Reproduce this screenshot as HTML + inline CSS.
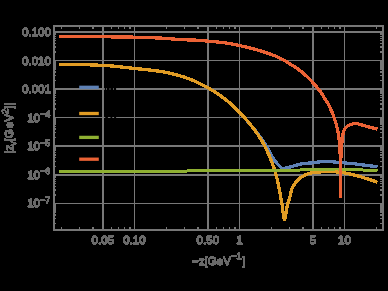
<!DOCTYPE html>
<html><head><meta charset="utf-8"><title>plot</title>
<style>html,body{margin:0;padding:0;background:#000;width:388px;height:291px;overflow:hidden}</style>
</head><body>
<svg width="388" height="291" viewBox="0 0 388 291" style="position:absolute;left:0;top:0;will-change:transform">
<rect width="388" height="291" fill="#000"/>
<g fill="#787878" shape-rendering="crispEdges"><rect x="102" y="25" width="2" height="206"/><rect x="134" y="25" width="1" height="206"/><rect x="207" y="25" width="2" height="206"/><rect x="239" y="25" width="1" height="206"/><rect x="312" y="25" width="2" height="206"/><rect x="344" y="25" width="1" height="206"/><rect x="53" y="31" width="331" height="2"/><rect x="53" y="60" width="331" height="1"/><rect x="53" y="88" width="331" height="2"/><rect x="53" y="117" width="331" height="1"/><rect x="53" y="145" width="331" height="2"/><rect x="53" y="174" width="331" height="2"/><rect x="53" y="203" width="331" height="1"/></g>
<rect x="104.8" y="87.6" width="1.40" height="3" fill="#000"/>
<rect x="106.9" y="87.6" width="2.70" height="3" fill="#000"/>
<rect x="110.4" y="87.6" width="2.80" height="3" fill="#000"/>
<rect x="113.9" y="87.6" width="2.20" height="3" fill="#000"/>
<rect x="105.3" y="116.2" width="2.60" height="3" fill="#000"/>
<rect x="110.5" y="116.2" width="1.80" height="3" fill="#000"/>
<rect x="114.1" y="116.2" width="2.00" height="3" fill="#000"/>
<filter id="th" x="-5%" y="-5%" width="110%" height="110%" color-interpolation-filters="sRGB"><feComponentTransfer><feFuncA type="discrete" tableValues="0 0 1 1 1 1 1 1 1 1"/></feComponentTransfer></filter>
<clipPath id="c"><rect x="54.0" y="26.0" width="329.0" height="204.0"/></clipPath>
<g clip-path="url(#c)" fill="none" stroke-linejoin="round" stroke-linecap="butt" shape-rendering="crispEdges">
<path d="M59.20,64.20 L61.01,64.20 L62.82,64.21 L64.63,64.22 L66.43,64.24 L68.24,64.26 L70.05,64.29 L71.85,64.32 L73.66,64.36 L75.47,64.40 L77.27,64.44 L79.08,64.49 L80.88,64.54 L82.68,64.59 L84.49,64.65 L86.29,64.71 L88.10,64.77 L89.90,64.84 L91.70,64.91 L93.50,64.98 L95.30,65.05 L97.11,65.12 L98.91,65.20 L100.71,65.28 L102.51,65.36 L104.31,65.44 L106.11,65.54 L107.91,65.66 L109.70,65.80 L111.50,65.95 L113.30,66.12 L115.09,66.30 L116.89,66.49 L118.69,66.69 L120.48,66.89 L122.28,67.10 L124.07,67.30 L125.87,67.51 L127.66,67.72 L129.46,67.92 L131.25,68.12 L133.05,68.31 L134.84,68.49 L136.64,68.68 L138.44,68.86 L140.24,69.03 L142.04,69.21 L143.84,69.40 L145.64,69.58 L147.44,69.77 L149.23,69.97 L151.03,70.17 L152.82,70.39 L154.61,70.61 L156.39,70.84 L158.18,71.09 L159.96,71.35 L161.73,71.63 L163.51,71.94 L165.28,72.27 L167.05,72.63 L168.82,73.01 L170.58,73.41 L172.34,73.84 L174.10,74.28 L175.85,74.73 L177.60,75.20 L179.34,75.68 L181.07,76.18 L182.79,76.69 L184.51,77.24 L186.22,77.83 L187.93,78.44 L189.62,79.09 L191.29,79.75 L192.96,80.44 L194.61,81.15 L196.26,81.88 L197.91,82.64 L199.54,83.42 L201.17,84.22 L202.78,85.04 L204.38,85.88 L205.97,86.74 L207.54,87.61 L209.10,88.50 L210.66,89.41 L212.21,90.34 L213.75,91.29 L215.28,92.26 L216.80,93.25 L218.31,94.26 L219.80,95.28 L221.28,96.33 L222.75,97.38 L224.19,98.46 L225.62,99.55 L227.03,100.66 L228.42,101.79 L229.79,102.96 L231.15,104.15 L232.50,105.36 L233.83,106.60 L235.14,107.85 L236.44,109.11 L237.72,110.39 L238.99,111.67 L240.24,112.96 L241.47,114.27 L242.69,115.61 L243.88,116.96 L245.07,118.32 L246.24,119.70 L247.40,121.08 L248.56,122.47 L249.72,123.86 L250.87,125.25 L252.03,126.64 L253.19,128.02 L254.35,129.41 L255.50,130.80 L256.64,132.20 L257.75,133.62 L258.84,135.06 L259.91,136.51 L260.96,137.98 L262.00,139.46 L263.02,140.95 L264.03,142.45 L265.01,143.96 L265.98,145.49 L266.92,147.03 L267.81,148.60 L268.66,150.21 L269.49,151.83 L270.32,153.45 L271.17,155.05 L272.05,156.63 L272.97,158.17 L273.95,159.65 L275.02,161.07 L276.19,162.44 L277.42,163.78 L278.69,165.08 L279.97,166.37 L281.22,167.89 L282.75,168.29 L284.61,168.19 L286.38,167.86 L288.13,167.42 L289.89,167.00 L291.64,166.56 L293.38,166.10 L295.12,165.57 L296.84,165.02 L298.57,164.50 L300.32,164.07 L302.09,163.77 L303.88,163.52 L305.68,163.34 L307.48,163.21 L309.28,163.10 L311.09,162.98 L312.88,162.80 L314.67,162.54 L316.45,162.27 L318.24,162.05 L320.04,161.83 L321.84,161.70 L323.64,161.66 L325.45,161.63 L327.25,161.61 L329.06,161.60 L330.86,161.62 L332.66,161.79 L334.45,162.02 L336.25,162.22 L338.04,162.38 L339.84,162.54 L341.64,162.69 L343.44,162.84 L345.24,162.98 L347.04,163.13 L348.84,163.29 L350.63,163.45 L352.43,163.62 L354.23,163.81 L356.02,164.00 L357.81,164.22 L359.60,164.46 L361.39,164.70 L363.18,164.95 L364.97,165.20 L366.76,165.43 L368.55,165.66 L370.34,165.89 L372.13,166.12 L373.92,166.35 L375.71,166.58 L377.50,166.80" stroke="#5e81b5" stroke-width="3.3"/>
<path d="M59.20,64.20 L60.77,64.20 L62.34,64.21 L63.91,64.22 L65.48,64.23 L67.05,64.25 L68.62,64.27 L70.19,64.29 L71.75,64.32 L73.32,64.35 L74.89,64.39 L76.46,64.42 L78.02,64.46 L79.59,64.50 L81.16,64.55 L82.72,64.60 L84.29,64.65 L85.86,64.70 L87.42,64.75 L88.99,64.81 L90.55,64.86 L92.12,64.92 L93.68,64.99 L95.24,65.05 L96.81,65.11 L98.37,65.18 L99.93,65.24 L101.50,65.31 L103.06,65.38 L104.62,65.45 L106.19,65.54 L107.75,65.65 L109.31,65.76 L110.87,65.89 L112.43,66.04 L113.99,66.19 L115.55,66.35 L117.11,66.51 L118.67,66.68 L120.23,66.86 L121.78,67.04 L123.34,67.22 L124.90,67.40 L126.46,67.58 L128.02,67.76 L129.57,67.94 L131.13,68.11 L132.69,68.27 L134.25,68.43 L135.81,68.59 L137.37,68.75 L138.93,68.90 L140.50,69.06 L142.06,69.22 L143.62,69.37 L145.18,69.53 L146.74,69.70 L148.30,69.87 L149.86,70.04 L151.42,70.22 L152.98,70.41 L154.53,70.60 L156.08,70.80 L157.63,71.01 L159.17,71.24 L160.72,71.47 L162.26,71.72 L163.80,71.99 L165.34,72.28 L166.87,72.59 L168.41,72.92 L169.94,73.27 L171.47,73.62 L173.00,74.00 L174.52,74.38 L176.04,74.78 L177.56,75.19 L179.07,75.61 L180.57,76.03 L182.07,76.47 L183.57,76.93 L185.06,77.42 L186.54,77.94 L188.02,78.48 L189.48,79.04 L190.94,79.61 L192.39,80.20 L193.83,80.81 L195.27,81.43 L196.70,82.08 L198.12,82.74 L199.54,83.42 L200.95,84.11 L202.35,84.82 L203.75,85.55 L205.13,86.29 L206.50,87.03 L207.86,87.79 L209.22,88.57 L210.57,89.36 L211.92,90.16 L213.26,90.98 L214.59,91.82 L215.91,92.67 L217.23,93.53 L218.54,94.41 L219.84,95.30 L221.12,96.21 L222.39,97.13 L223.65,98.05 L224.90,99.00 L226.13,99.95 L227.35,100.91 L228.55,101.91 L229.75,102.92 L230.93,103.95 L232.10,105.00 L233.26,106.07 L234.41,107.14 L235.54,108.24 L236.66,109.34 L237.78,110.44 L238.88,111.56 L239.97,112.68 L241.04,113.81 L242.11,114.95 L243.17,116.11 L244.21,117.28 L245.25,118.46 L246.27,119.65 L247.29,120.85 L248.29,122.05 L249.29,123.26 L250.28,124.48 L251.26,125.70 L252.24,126.93 L253.21,128.16 L254.17,129.40 L255.12,130.65 L256.05,131.91 L256.96,133.19 L257.85,134.47 L258.71,135.78 L259.56,137.09 L260.39,138.42 L261.21,139.76 L262.01,141.11 L262.80,142.48 L263.56,143.85 L264.30,145.23 L265.01,146.61 L265.71,148.01 L266.40,149.42 L267.07,150.84 L267.73,152.26 L268.37,153.70 L269.00,155.14 L269.61,156.58 L270.21,158.03 L270.79,159.48 L271.37,160.94 L271.93,162.40 L272.48,163.87 L273.02,165.34 L273.54,166.82 L274.05,168.31 L274.53,169.80 L274.99,171.29 L275.43,172.79 L275.86,174.30 L276.28,175.81 L276.69,177.33 L277.07,178.85 L277.45,180.37 L277.81,181.90 L278.15,183.42 L278.47,184.96 L278.78,186.49 L279.08,188.03 L279.36,189.57 L279.64,191.11 L279.92,192.66 L280.19,194.20 L280.47,195.74 L280.75,197.29 L281.05,198.83 L281.34,200.37 L281.63,201.91 L281.90,203.45 L282.14,205.00 L282.36,206.55 L282.56,208.10 L282.74,209.66 L282.93,211.22 L283.13,212.77 L283.35,214.32 L283.59,215.87 L283.85,217.41 L284.12,218.96 L284.40,220.50" stroke="#e19c24" stroke-width="3.3"/>
<path d="M284.40,220.50 L284.56,219.88 L284.71,219.27 L284.86,218.65 L285.01,218.03 L285.16,217.41 L285.30,216.80 L285.44,216.18 L285.58,215.56 L285.71,214.94 L285.84,214.32 L285.96,213.69 L286.08,213.07 L286.19,212.44 L286.29,211.82 L286.39,211.19 L286.49,210.56 L286.58,209.93 L286.68,209.30 L286.78,208.67 L286.88,208.04 L286.98,207.42 L287.09,206.79 L287.20,206.17 L287.32,205.55 L287.45,204.93 L287.59,204.31 L287.75,203.70 L287.92,203.09 L288.11,202.49 L288.30,201.88 L288.50,201.28 L288.71,200.68 L288.92,200.07 L289.13,199.47 L289.33,198.87 L289.52,198.26 L289.71,197.65 L289.89,197.05 L290.05,196.43 L290.20,195.81 L290.34,195.19 L290.48,194.56 L290.61,193.93 L290.74,193.30 L290.87,192.67 L291.01,192.05 L291.15,191.43 L291.30,190.81 L291.46,190.20 L291.63,189.60 L291.82,189.01 L292.04,188.43 L292.29,187.86 L292.56,187.29 L292.86,186.73 L293.18,186.17 L293.52,185.62 L293.87,185.08 L294.23,184.54 L294.58,184.02 L294.94,183.50 L295.31,182.98 L295.68,182.46 L296.07,181.95 L296.48,181.45 L296.89,180.96 L297.32,180.48 L297.75,180.03 L298.20,179.59 L298.66,179.17 L299.14,178.76 L299.64,178.37 L300.15,177.99 L300.68,177.62 L301.21,177.27 L301.75,176.92 L302.30,176.59 L302.84,176.27 L303.39,175.96 L303.95,175.65 L304.51,175.34 L305.08,175.04 L305.65,174.75 L306.23,174.48 L306.81,174.22 L307.40,173.98 L307.99,173.76 L308.59,173.57 L309.19,173.40 L309.80,173.24 L310.42,173.09 L311.05,172.95 L311.67,172.82 L312.30,172.71 L312.93,172.61 L313.55,172.52 L314.18,172.45 L314.81,172.37 L315.44,172.31 L316.08,172.25 L316.71,172.19 L317.34,172.13 L317.98,172.08 L318.61,172.02 L319.24,171.97 L319.88,171.91 L320.51,171.85 L321.14,171.78 L321.77,171.70 L322.41,171.63 L323.04,171.57 L323.67,171.52 L324.30,171.50 L324.94,171.50 L325.57,171.50 L326.21,171.51 L326.84,171.52 L327.48,171.53 L328.11,171.54 L328.75,171.56 L329.38,171.58 L330.02,171.60 L330.65,171.62 L331.29,171.64 L331.92,171.67 L332.56,171.69 L333.19,171.72 L333.83,171.75 L334.46,171.78 L335.09,171.80 L335.72,171.84 L336.36,171.88 L336.99,171.93 L337.62,171.99 L338.26,172.06 L338.89,172.13 L339.52,172.20 L340.15,172.28 L340.78,172.37 L341.41,172.45 L342.04,172.54 L342.67,172.64 L343.30,172.73 L343.93,172.83 L344.55,172.93 L345.18,173.03 L345.80,173.13 L346.42,173.24 L347.04,173.36 L347.67,173.48 L348.29,173.60 L348.91,173.73 L349.53,173.87 L350.15,174.01 L350.76,174.16 L351.38,174.30 L352.00,174.46 L352.62,174.61 L353.23,174.77 L353.85,174.93 L354.46,175.10 L355.08,175.26 L355.69,175.43 L356.31,175.60 L356.92,175.77 L357.53,175.95 L358.15,176.12 L358.76,176.29 L359.37,176.47 L359.98,176.64 L360.59,176.81 L361.20,176.99 L361.81,177.16 L362.42,177.33 L363.03,177.51 L363.64,177.69 L364.25,177.87 L364.85,178.05 L365.46,178.23 L366.07,178.42 L366.67,178.61 L367.28,178.80 L367.89,178.99 L368.49,179.18 L369.09,179.38 L369.70,179.58 L370.30,179.78 L370.90,179.98 L371.51,180.18 L372.11,180.39 L372.71,180.59 L373.31,180.80 L373.91,181.01 L374.51,181.22 L375.11,181.43 L375.71,181.65 L376.30,181.86 L376.90,182.08 L377.50,182.30" stroke="#e19c24" stroke-width="3.3"/>
<path d="M59.00,171.50 L60.60,171.50 L62.20,171.50 L63.80,171.50 L65.40,171.50 L67.00,171.50 L68.61,171.50 L70.21,171.50 L71.81,171.50 L73.41,171.50 L75.01,171.50 L76.61,171.50 L78.21,171.50 L79.81,171.49 L81.41,171.49 L83.01,171.49 L84.61,171.49 L86.21,171.49 L87.82,171.49 L89.42,171.49 L91.02,171.49 L92.62,171.49 L94.22,171.49 L95.82,171.48 L97.42,171.48 L99.02,171.48 L100.62,171.48 L102.22,171.48 L103.82,171.48 L105.42,171.47 L107.02,171.47 L108.63,171.47 L110.23,171.47 L111.83,171.47 L113.43,171.46 L115.03,171.46 L116.63,171.46 L118.23,171.46 L119.83,171.46 L121.43,171.45 L123.03,171.45 L124.63,171.45 L126.23,171.45 L127.83,171.44 L129.44,171.44 L131.04,171.44 L132.64,171.43 L134.24,171.43 L135.84,171.43 L137.44,171.43 L139.04,171.42 L140.64,171.42 L142.24,171.42 L143.84,171.41 L145.44,171.41 L147.04,171.41 L148.64,171.40 L150.25,171.40 L151.85,171.39 L153.45,171.39 L155.05,171.38 L156.65,171.37 L158.25,171.35 L159.85,171.34 L161.45,171.32 L163.05,171.30 L164.65,171.29 L166.25,171.27 L167.85,171.25 L169.45,171.23 L171.05,171.20 L172.66,171.18 L174.26,171.16 L175.86,171.14 L177.46,171.12 L179.06,171.10 L180.66,171.08 L182.26,171.06 L183.86,171.04 L185.46,171.02 L187.06,171.01 L188.66,170.99 L190.26,170.98 L191.86,170.97 L193.46,170.95 L195.07,170.94 L196.67,170.92 L198.27,170.91 L199.87,170.90 L201.47,170.88 L203.07,170.87 L204.67,170.85 L206.27,170.84 L207.87,170.83 L209.47,170.81 L211.07,170.80 L212.67,170.79 L214.27,170.78 L215.88,170.76 L217.48,170.75 L219.08,170.74 L220.68,170.73 L222.28,170.72 L223.88,170.70 L225.48,170.69 L227.08,170.68 L228.68,170.67 L230.28,170.66 L231.88,170.65 L233.48,170.64 L235.08,170.63 L236.69,170.62 L238.29,170.61 L239.89,170.60 L241.49,170.59 L243.09,170.58 L244.69,170.58 L246.29,170.57 L247.89,170.56 L249.49,170.56 L251.09,170.55 L252.69,170.55 L254.29,170.54 L255.90,170.54 L257.50,170.53 L259.10,170.53 L260.70,170.52 L262.30,170.52 L263.90,170.51 L265.50,170.51 L267.10,170.50 L268.70,170.50 L270.30,170.49 L271.90,170.48 L273.50,170.48 L275.11,170.47 L276.71,170.46 L278.31,170.45 L279.91,170.44 L281.51,170.43 L283.11,170.42 L284.71,170.40 L286.31,170.38 L287.91,170.36 L289.51,170.32 L291.11,170.27 L292.71,170.23 L294.31,170.17 L295.91,170.12 L297.51,170.07 L299.11,170.02 L300.71,169.98 L302.31,169.94 L303.91,169.90 L305.51,169.86 L307.11,169.82 L308.71,169.78 L310.31,169.75 L311.91,169.71 L313.51,169.67 L315.11,169.63 L316.71,169.59 L318.31,169.54 L319.91,169.50 L321.51,169.45 L323.12,169.40 L324.72,169.34 L326.32,169.28 L327.92,169.21 L329.52,169.16 L331.12,169.10 L332.72,169.06 L334.32,169.02 L335.92,169.00 L337.52,169.00 L339.12,169.02 L340.72,169.07 L342.31,169.13 L343.91,169.21 L345.51,169.29 L347.11,169.37 L348.71,169.45 L350.31,169.51 L351.91,169.57 L353.51,169.64 L355.11,169.70 L356.71,169.76 L358.31,169.82 L359.91,169.89 L361.51,169.95 L363.11,170.02 L364.71,170.09 L366.31,170.16 L367.91,170.23 L369.51,170.30 L371.10,170.38 L372.70,170.46 L374.30,170.54 L375.90,170.62 L377.50,170.70" stroke="#8fb032" stroke-width="3.0"/>
<path d="M59.20,36.30 L60.96,36.30 L62.72,36.31 L64.49,36.31 L66.25,36.32 L68.01,36.33 L69.77,36.34 L71.54,36.35 L73.30,36.36 L75.06,36.37 L76.82,36.39 L78.58,36.40 L80.35,36.41 L82.11,36.43 L83.87,36.44 L85.63,36.46 L87.39,36.48 L89.16,36.49 L90.92,36.51 L92.68,36.53 L94.44,36.55 L96.21,36.58 L97.97,36.61 L99.73,36.64 L101.49,36.67 L103.25,36.71 L105.01,36.74 L106.78,36.78 L108.54,36.81 L110.30,36.84 L112.06,36.88 L113.82,36.91 L115.59,36.94 L117.35,36.96 L119.11,36.99 L120.87,37.01 L122.63,37.03 L124.40,37.04 L126.16,37.06 L127.92,37.07 L129.68,37.10 L131.44,37.12 L133.21,37.15 L134.97,37.19 L136.73,37.23 L138.49,37.27 L140.25,37.32 L142.02,37.37 L143.78,37.42 L145.54,37.48 L147.30,37.54 L149.06,37.60 L150.82,37.67 L152.59,37.74 L154.35,37.81 L156.11,37.89 L157.87,37.96 L159.63,38.04 L161.39,38.12 L163.14,38.22 L164.90,38.33 L166.66,38.46 L168.42,38.60 L170.17,38.74 L171.93,38.89 L173.69,39.04 L175.44,39.18 L177.20,39.32 L178.96,39.44 L180.72,39.56 L182.48,39.65 L184.24,39.73 L186.00,39.81 L187.76,39.87 L189.52,39.94 L191.28,40.00 L193.05,40.06 L194.81,40.13 L196.57,40.21 L198.33,40.30 L200.08,40.41 L201.84,40.54 L203.59,40.71 L205.34,40.90 L207.10,41.10 L208.85,41.29 L210.60,41.45 L212.36,41.60 L214.12,41.74 L215.88,41.87 L217.64,42.01 L219.39,42.17 L221.14,42.36 L222.88,42.58 L224.63,42.82 L226.37,43.09 L228.11,43.37 L229.85,43.68 L231.58,44.00 L233.32,44.33 L235.05,44.67 L236.78,45.02 L238.50,45.37 L240.23,45.73 L241.95,46.10 L243.67,46.48 L245.38,46.88 L247.10,47.29 L248.81,47.71 L250.52,48.14 L252.23,48.59 L253.94,49.04 L255.64,49.51 L257.34,49.98 L259.03,50.46 L260.72,50.95 L262.41,51.45 L264.09,51.97 L265.77,52.52 L267.44,53.09 L269.10,53.67 L270.76,54.28 L272.41,54.90 L274.06,55.53 L275.70,56.19 L277.32,56.88 L278.93,57.59 L280.51,58.35 L282.07,59.16 L283.61,60.01 L285.13,60.90 L286.64,61.82 L288.15,62.75 L289.64,63.69 L291.13,64.63 L292.62,65.58 L294.11,66.53 L295.59,67.50 L297.06,68.49 L298.50,69.50 L299.91,70.54 L301.30,71.61 L302.65,72.73 L303.99,73.87 L305.31,75.05 L306.61,76.25 L307.89,77.47 L309.15,78.71 L310.39,79.97 L311.61,81.23 L312.82,82.51 L314.02,83.81 L315.19,85.13 L316.35,86.47 L317.47,87.83 L318.57,89.21 L319.62,90.60 L320.64,92.03 L321.62,93.49 L322.58,94.98 L323.52,96.47 L324.45,97.98 L325.38,99.48 L326.31,100.97 L327.26,102.47 L328.16,103.98 L328.98,105.53 L329.76,107.11 L330.51,108.70 L331.23,110.32 L331.93,111.94 L332.59,113.58 L333.23,115.23 L333.83,116.88 L334.40,118.54 L334.96,120.22 L335.49,121.90 L335.99,123.60 L336.45,125.30 L336.88,127.01 L337.28,128.72 L337.66,130.44 L338.03,132.17 L338.36,133.90 L338.65,135.64 L338.90,137.38 L339.10,139.13 L339.28,140.88 L339.44,142.64 L339.58,144.40 L339.71,146.16 L339.83,147.91 L339.94,149.67 L340.04,151.43 L340.12,153.19 L340.20,154.95 L340.26,156.71 L340.32,158.48 L340.36,160.24 L340.40,162.00" stroke="#eb6235" stroke-width="3.3"/>
<path d="M340.70,162.00 L340.71,161.66 L340.72,161.31 L340.74,160.97 L340.75,160.62 L340.76,160.28 L340.77,159.94 L340.79,159.59 L340.80,159.25 L340.82,158.91 L340.83,158.56 L340.85,158.22 L340.86,157.88 L340.88,157.53 L340.89,157.19 L340.91,156.84 L340.92,156.50 L340.94,156.16 L340.96,155.81 L340.98,155.47 L340.99,155.13 L341.01,154.78 L341.03,154.44 L341.05,154.10 L341.07,153.75 L341.09,153.41 L341.11,153.07 L341.13,152.72 L341.15,152.38 L341.17,152.04 L341.19,151.69 L341.21,151.35 L341.24,151.01 L341.26,150.66 L341.28,150.32 L341.31,149.98 L341.33,149.63 L341.35,149.29 L341.38,148.95 L341.40,148.60 L341.43,148.26 L341.45,147.92 L341.48,147.58 L341.51,147.23 L341.53,146.89 L341.56,146.55 L341.58,146.20 L341.61,145.86 L341.64,145.52 L341.66,145.17 L341.69,144.83 L341.72,144.49 L341.74,144.14 L341.77,143.80 L341.80,143.46 L341.82,143.11 L341.85,142.77 L341.88,142.42 L341.91,142.08 L341.94,141.74 L341.97,141.39 L342.00,141.05 L342.03,140.71 L342.06,140.37 L342.09,140.02 L342.13,139.68 L342.17,139.34 L342.20,139.00 L342.24,138.66 L342.28,138.32 L342.32,137.98 L342.37,137.64 L342.41,137.30 L342.46,136.96 L342.51,136.61 L342.56,136.27 L342.62,135.92 L342.68,135.57 L342.74,135.22 L342.80,134.87 L342.87,134.52 L342.94,134.17 L343.02,133.82 L343.09,133.48 L343.17,133.13 L343.26,132.79 L343.35,132.46 L343.44,132.13 L343.53,131.80 L343.63,131.48 L343.74,131.16 L343.85,130.86 L343.96,130.55 L344.07,130.26 L344.20,129.97 L344.35,129.68 L344.51,129.38 L344.69,129.09 L344.89,128.79 L345.10,128.50 L345.32,128.21 L345.56,127.92 L345.80,127.64 L346.05,127.37 L346.31,127.11 L346.58,126.86 L346.85,126.63 L347.13,126.41 L347.40,126.20 L347.68,126.01 L347.95,125.84 L348.22,125.69 L348.50,125.55 L348.79,125.40 L349.08,125.26 L349.39,125.12 L349.70,124.99 L350.02,124.85 L350.35,124.72 L350.68,124.59 L351.01,124.47 L351.35,124.35 L351.70,124.24 L352.04,124.14 L352.39,124.04 L352.74,123.95 L353.09,123.87 L353.44,123.80 L353.79,123.74 L354.14,123.69 L354.48,123.65 L354.82,123.62 L355.16,123.60 L355.49,123.60 L355.83,123.61 L356.16,123.63 L356.49,123.65 L356.83,123.69 L357.16,123.73 L357.49,123.78 L357.83,123.84 L358.16,123.91 L358.50,123.98 L358.83,124.06 L359.16,124.14 L359.50,124.23 L359.83,124.32 L360.17,124.41 L360.50,124.51 L360.84,124.62 L361.17,124.72 L361.51,124.83 L361.84,124.93 L362.18,125.04 L362.51,125.15 L362.85,125.26 L363.18,125.36 L363.52,125.47 L363.85,125.57 L364.19,125.68 L364.52,125.78 L364.86,125.87 L365.19,125.97 L365.52,126.05 L365.86,126.14 L366.19,126.22 L366.52,126.31 L366.86,126.39 L367.19,126.48 L367.52,126.56 L367.86,126.65 L368.19,126.73 L368.52,126.82 L368.86,126.90 L369.19,126.99 L369.52,127.08 L369.86,127.16 L370.19,127.25 L370.52,127.34 L370.85,127.42 L371.19,127.51 L371.52,127.60 L371.85,127.68 L372.18,127.77 L372.52,127.86 L372.85,127.95 L373.18,128.04 L373.51,128.12 L373.85,128.21 L374.18,128.30 L374.51,128.39 L374.84,128.48 L375.18,128.57 L375.51,128.66 L375.84,128.75 L376.17,128.84 L376.50,128.93 L376.84,129.02 L377.17,129.11 L377.50,129.20" stroke="#eb6235" stroke-width="3.3"/>
<path d="M340.5,160 V198.4" stroke="#eb6235" stroke-width="2.6"/>
</g>
<g fill="#767676" shape-rendering="crispEdges"><rect x="61" y="227" width="1" height="2"/><rect x="61" y="27" width="1" height="2"/><rect x="79" y="227" width="1" height="2"/><rect x="79" y="27" width="1" height="2"/><rect x="92" y="227" width="2" height="2"/><rect x="92" y="27" width="2" height="2"/><rect x="111" y="227" width="1" height="2"/><rect x="111" y="27" width="1" height="2"/><rect x="118" y="227" width="1" height="2"/><rect x="118" y="27" width="1" height="2"/><rect x="124" y="227" width="1" height="2"/><rect x="124" y="27" width="1" height="2"/><rect x="129" y="227" width="2" height="2"/><rect x="129" y="27" width="2" height="2"/><rect x="166" y="227" width="1" height="2"/><rect x="166" y="27" width="1" height="2"/><rect x="184" y="227" width="1" height="2"/><rect x="184" y="27" width="1" height="2"/><rect x="197" y="227" width="2" height="2"/><rect x="197" y="27" width="2" height="2"/><rect x="216" y="227" width="1" height="2"/><rect x="216" y="27" width="1" height="2"/><rect x="223" y="227" width="1" height="2"/><rect x="223" y="27" width="1" height="2"/><rect x="229" y="227" width="1" height="2"/><rect x="229" y="27" width="1" height="2"/><rect x="234" y="227" width="2" height="2"/><rect x="234" y="27" width="2" height="2"/><rect x="271" y="227" width="1" height="2"/><rect x="271" y="27" width="1" height="2"/><rect x="289" y="227" width="1" height="2"/><rect x="289" y="27" width="1" height="2"/><rect x="302" y="227" width="2" height="2"/><rect x="302" y="27" width="2" height="2"/><rect x="321" y="227" width="1" height="2"/><rect x="321" y="27" width="1" height="2"/><rect x="328" y="227" width="1" height="2"/><rect x="328" y="27" width="1" height="2"/><rect x="334" y="227" width="1" height="2"/><rect x="334" y="27" width="1" height="2"/><rect x="339" y="227" width="2" height="2"/><rect x="339" y="27" width="2" height="2"/><rect x="376" y="227" width="1" height="2"/><rect x="376" y="27" width="1" height="2"/><rect x="55" y="223" width="1" height="1"/><rect x="380" y="223" width="2" height="1"/><rect x="55" y="218" width="1" height="1"/><rect x="380" y="218" width="2" height="1"/><rect x="55" y="214" width="1" height="2"/><rect x="380" y="214" width="2" height="2"/><rect x="55" y="211" width="1" height="2"/><rect x="380" y="211" width="2" height="2"/><rect x="55" y="209" width="1" height="2"/><rect x="380" y="209" width="2" height="2"/><rect x="55" y="207" width="1" height="2"/><rect x="380" y="207" width="2" height="2"/><rect x="55" y="206" width="1" height="1"/><rect x="380" y="206" width="2" height="1"/><rect x="55" y="204" width="1" height="2"/><rect x="380" y="204" width="2" height="2"/><rect x="55" y="194" width="1" height="2"/><rect x="380" y="194" width="2" height="2"/><rect x="55" y="189" width="1" height="2"/><rect x="380" y="189" width="2" height="2"/><rect x="55" y="186" width="1" height="1"/><rect x="380" y="186" width="2" height="1"/><rect x="55" y="183" width="1" height="1"/><rect x="380" y="183" width="2" height="1"/><rect x="55" y="181" width="1" height="1"/><rect x="380" y="181" width="2" height="1"/><rect x="55" y="179" width="1" height="1"/><rect x="380" y="179" width="2" height="1"/><rect x="55" y="177" width="1" height="1"/><rect x="380" y="177" width="2" height="1"/><rect x="55" y="176" width="1" height="1"/><rect x="380" y="176" width="2" height="1"/><rect x="55" y="166" width="1" height="1"/><rect x="380" y="166" width="2" height="1"/><rect x="55" y="161" width="1" height="1"/><rect x="380" y="161" width="2" height="1"/><rect x="55" y="157" width="1" height="1"/><rect x="380" y="157" width="2" height="1"/><rect x="55" y="154" width="1" height="2"/><rect x="380" y="154" width="2" height="2"/><rect x="55" y="152" width="1" height="1"/><rect x="380" y="152" width="2" height="1"/><rect x="55" y="150" width="1" height="1"/><rect x="380" y="150" width="2" height="1"/><rect x="55" y="148" width="1" height="2"/><rect x="380" y="148" width="2" height="2"/><rect x="55" y="147" width="1" height="1"/><rect x="380" y="147" width="2" height="1"/><rect x="55" y="137" width="1" height="1"/><rect x="380" y="137" width="2" height="1"/><rect x="55" y="132" width="1" height="1"/><rect x="380" y="132" width="2" height="1"/><rect x="55" y="128" width="1" height="2"/><rect x="380" y="128" width="2" height="2"/><rect x="55" y="126" width="1" height="1"/><rect x="380" y="126" width="2" height="1"/><rect x="55" y="123" width="1" height="2"/><rect x="380" y="123" width="2" height="2"/><rect x="55" y="121" width="1" height="2"/><rect x="380" y="121" width="2" height="2"/><rect x="55" y="120" width="1" height="1"/><rect x="380" y="120" width="2" height="1"/><rect x="55" y="118" width="1" height="2"/><rect x="380" y="118" width="2" height="2"/><rect x="55" y="108" width="1" height="2"/><rect x="380" y="108" width="2" height="2"/><rect x="55" y="103" width="1" height="2"/><rect x="380" y="103" width="2" height="2"/><rect x="55" y="100" width="1" height="1"/><rect x="380" y="100" width="2" height="1"/><rect x="55" y="97" width="1" height="1"/><rect x="380" y="97" width="2" height="1"/><rect x="55" y="95" width="1" height="1"/><rect x="380" y="95" width="2" height="1"/><rect x="55" y="93" width="1" height="1"/><rect x="380" y="93" width="2" height="1"/><rect x="55" y="91" width="1" height="2"/><rect x="380" y="91" width="2" height="2"/><rect x="55" y="90" width="1" height="1"/><rect x="380" y="90" width="2" height="1"/><rect x="55" y="80" width="1" height="1"/><rect x="380" y="80" width="2" height="1"/><rect x="55" y="75" width="1" height="1"/><rect x="380" y="75" width="2" height="1"/><rect x="55" y="71" width="1" height="2"/><rect x="380" y="71" width="2" height="2"/><rect x="55" y="68" width="1" height="2"/><rect x="380" y="68" width="2" height="2"/><rect x="55" y="66" width="1" height="2"/><rect x="380" y="66" width="2" height="2"/><rect x="55" y="64" width="1" height="2"/><rect x="380" y="64" width="2" height="2"/><rect x="55" y="63" width="1" height="1"/><rect x="380" y="63" width="2" height="1"/><rect x="55" y="61" width="1" height="2"/><rect x="380" y="61" width="2" height="2"/><rect x="55" y="51" width="1" height="2"/><rect x="380" y="51" width="2" height="2"/><rect x="55" y="46" width="1" height="2"/><rect x="380" y="46" width="2" height="2"/><rect x="55" y="43" width="1" height="1"/><rect x="380" y="43" width="2" height="1"/><rect x="55" y="40" width="1" height="1"/><rect x="380" y="40" width="2" height="1"/><rect x="55" y="38" width="1" height="1"/><rect x="380" y="38" width="2" height="1"/><rect x="55" y="36" width="1" height="1"/><rect x="380" y="36" width="2" height="1"/><rect x="55" y="34" width="1" height="1"/><rect x="380" y="34" width="2" height="1"/><rect x="55" y="33" width="1" height="1"/><rect x="380" y="33" width="2" height="1"/></g>
<rect x="54.0" y="26.0" width="329.0" height="204.0" fill="none" stroke="#767676" stroke-width="2" shape-rendering="crispEdges"/>
<path d="M79.2,87.3 H98.8" stroke="#5e81b5" stroke-width="3.3"/>
<path d="M79.2,113.5 H98.8" stroke="#e19c24" stroke-width="3.3"/>
<path d="M79.2,137.4 H98.8" stroke="#8fb032" stroke-width="3.3"/>
<path d="M79.2,159.2 H98.8" stroke="#eb6235" stroke-width="3.3"/>
<g font-family="Liberation Sans, sans-serif" font-size="11.6" fill="#6a6a6a" stroke="#6a6a6a" stroke-width="0.8" filter="url(#th)">
<text x="102.89" y="243.8" text-anchor="middle">0.05</text>
<text x="134.50" y="243.8" text-anchor="middle">0.10</text>
<text x="207.89" y="243.8" text-anchor="middle">0.50</text>
<text x="239.50" y="243.8" text-anchor="middle">1</text>
<text x="312.89" y="243.8" text-anchor="middle">5</text>
<text x="344.50" y="243.8" text-anchor="middle">10</text>
<text x="51.0" y="35.90" text-anchor="end">0.100</text>
<text x="51.0" y="64.50" text-anchor="end">0.010</text>
<text x="51.0" y="93.10" text-anchor="end">0.001</text>
<text x="50.3" y="121.50" text-anchor="end">10<tspan font-size="9" dy="-4.6">−4</tspan></text>
<text x="50.3" y="150.10" text-anchor="end">10<tspan font-size="9" dy="-4.6">−5</tspan></text>
<text x="50.3" y="178.70" text-anchor="end">10<tspan font-size="9" dy="-4.6">−6</tspan></text>
<text x="50.3" y="207.30" text-anchor="end">10<tspan font-size="9" dy="-4.6">−7</tspan></text>
<text x="191.9" y="264.9">−z[GeV<tspan font-size="9" dy="-5.5" dx="0.4">−1</tspan><tspan dy="5.5" dx="0.7">]</tspan></text>
<text transform="translate(13.3,153.4) rotate(-90)">|z<tspan font-size="6.5" dy="2.4" dx="-1.2">V</tspan><tspan dy="-2.4">[G</tspan><tspan dx="0.9">eV</tspan><tspan font-size="9.5" dy="-5.7">2</tspan><tspan dy="5.7">]|</tspan></text>
</g>
</svg>
</body></html>
